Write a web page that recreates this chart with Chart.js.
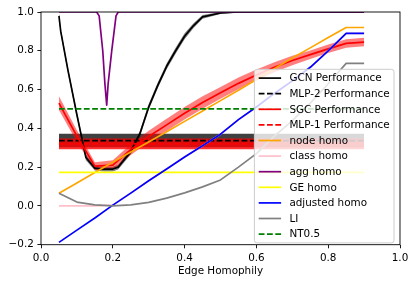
<!DOCTYPE html>
<html>
<head>
<meta charset="utf-8">
<script src="https://cdn.jsdelivr.net/npm/chart.js@4.4.0/dist/chart.umd.min.js"></script>
<style>
html,body{margin:0;padding:0;background:#ffffff;}
canvas{display:block;}
</style>
</head>
<body>
<canvas id="c" width="416" height="285"></canvas>
<script>
// ---------------- data ----------------
const edgeHomophily = [0.05,0.10,0.15,0.20,0.25,0.30,0.35,0.40,0.45,0.50,0.55,0.60,0.65,0.70,0.75,0.80,0.85,0.90];

const gcnX    = [0.05,0.055,0.075,0.10,0.125,0.15,0.175,0.20,0.215,0.25,0.275,0.30,0.325,0.35,0.375,0.40,0.425,0.45,0.50,0.55,0.60,0.65,0.70,0.75,0.80,0.85,0.90];
const gcnPerf = [0.98,0.90,0.70,0.47,0.25,0.195,0.19,0.19,0.20,0.28,0.37,0.51,0.62,0.72,0.80,0.875,0.93,0.975,0.995,1.0,1.0,1.0,1.0,1.0,1.0,1.0,1.0];
const gcnStd  = [0.015,0.015,0.015,0.015,0.015,0.012,0.012,0.012,0.012,0.015,0.015,0.015,0.015,0.015,0.015,0.015,0.012,0.01,0.005,0.003,0.003,0.003,0.003,0.003,0.003,0.003,0.003];

const mlp2Perf = [0.337,0.337,0.337,0.337,0.337,0.337,0.337,0.337,0.337,0.337,0.337,0.337,0.337,0.337,0.337,0.337,0.337,0.337];
const mlp2Std  = [0.035,0.035,0.035,0.035,0.035,0.035,0.035,0.035,0.035,0.035,0.035,0.035,0.035,0.035,0.035,0.035,0.035,0.035];

const sgcPerf = [0.53,0.36,0.205,0.21,0.29,0.358,0.418,0.478,0.533,0.583,0.632,0.675,0.715,0.75,0.78,0.81,0.838,0.845];
const sgcStd  = [0.035,0.03,0.02,0.025,0.028,0.03,0.032,0.032,0.032,0.03,0.03,0.028,0.026,0.024,0.022,0.022,0.022,0.022];

const mlp1Perf = [0.32,0.32,0.32,0.32,0.32,0.32,0.32,0.32,0.32,0.32,0.32,0.32,0.32,0.32,0.32,0.32,0.32,0.32];
const mlp1Std  = [0.028,0.028,0.028,0.028,0.028,0.028,0.028,0.028,0.028,0.028,0.028,0.028,0.028,0.028,0.028,0.028,0.028,0.028];

const nodeHomo     = [0.065,0.118,0.172,0.225,0.278,0.33,0.383,0.436,0.49,0.543,0.597,0.652,0.708,0.763,0.815,0.868,0.92,0.92];
const classHomo    = [0,0,0,0.004,0.066,0.13,0.19,0.252,0.31,0.37,0.445,0.51,0.58,0.645,0.715,0.80,0.89,0.89];
const aggX         = [0.05,0.155,0.162,0.172,0.178,0.183,0.187,0.197,0.209,0.215,0.90];
const aggHomo      = [1.0,1.0,0.98,0.80,0.63,0.52,0.63,0.80,0.98,1.0,1.0];
const geHomo       = [0.173,0.173,0.173,0.173,0.173,0.173,0.173,0.173,0.173,0.173,0.173,0.173,0.173,0.173,0.173,0.173,0.173,0.173];
const adjustedHomo = [-0.188,-0.125,-0.062,0.004,0.066,0.13,0.19,0.252,0.31,0.37,0.445,0.51,0.58,0.645,0.715,0.80,0.89,0.89];
const liValues     = [0.065,0.02,0.005,0.0,0.005,0.018,0.04,0.067,0.098,0.134,0.20,0.27,0.36,0.44,0.53,0.63,0.735,0.735];
const nt05         = [0.5,0.5,0.5,0.5,0.5,0.5,0.5,0.5,0.5,0.5,0.5,0.5,0.5,0.5,0.5,0.5,0.5,0.5];

const xTicks = [0.0,0.2,0.4,0.6,0.8,1.0];
const yTicks = [-0.2,0.0,0.2,0.4,0.6,0.8,1.0];

// ---------------- helpers ----------------
const pts = (xs, ys) => xs.map((x, i) => ({x: x, y: ys[i]}));
const shift = (ys, sd, s) => ys.map((v, i) => v + s * sd[i]);
const DASH = [5.8, 2.5];
const LW = 1.7;

function line(label, xs, ys, color, rank, dash) {
  return {label: label, data: pts(xs, ys), borderColor: color, backgroundColor: color,
    borderWidth: LW, borderDash: dash || [], pointRadius: 0, fill: false, tension: 0,
    borderJoinStyle: 'round', clip: 0, legendRank: rank};
}
function bandPair(xs, mean, sd, fillColor) {
  return [
    {label: '', data: pts(xs, shift(mean, sd, 1)), borderWidth: 0, borderColor: 'rgba(0,0,0,0)', pointRadius: 0, fill: false, clip: 0},
    {label: '', data: pts(xs, shift(mean, sd, -1)), borderWidth: 0, borderColor: 'rgba(0,0,0,0)', pointRadius: 0, fill: '-1', backgroundColor: fillColor, clip: 0}
  ];
}

// drawing order: first = bottom
const datasets = [].concat(
  bandPair(edgeHomophily, mlp2Perf, mlp2Std, 'rgba(0,0,0,0.75)'),
  bandPair(edgeHomophily, mlp1Perf, mlp1Std, 'rgba(255,0,0,0.8)'),
  bandPair(gcnX, gcnPerf, gcnStd, 'rgba(0,0,0,0.5)'),
  bandPair(edgeHomophily, sgcPerf, sgcStd, 'rgba(255,0,0,0.5)'),
  [
    line('GCN Performance', gcnX, gcnPerf, '#000000', 0),
    line('MLP-2 Performance', edgeHomophily, mlp2Perf, '#000000', 1, DASH),
    line('SGC Performance', edgeHomophily, sgcPerf, '#ff0000', 2),
    line('MLP-1 Performance', edgeHomophily, mlp1Perf, '#ff0000', 3, DASH),
    line('node homo', edgeHomophily, nodeHomo, '#ffa500', 4),
    line('class homo', edgeHomophily, classHomo, '#ffc0cb', 5),
    line('agg homo', aggX, aggHomo, '#800080', 6),
    line('GE homo', edgeHomophily, geHomo, '#ffff00', 7),
    line('adjusted homo', edgeHomophily, adjustedHomo, '#0000ff', 8),
    line('LI', edgeHomophily, liValues, '#808080', 9),
    line('NT0.5', edgeHomophily, nt05, '#008000', 10, DASH)
  ]
);
datasets.forEach((d, i) => { d.order = datasets.length - i; });

const FONT = '"DejaVu Sans", sans-serif';
const FS = 10.4;
const fmt = v => { if (Math.abs(v) < 1e-9) v = 0; const s = v.toFixed(1); return s.replace('-', '\u2212'); };

const framePlugin = {
  id: 'frame',
  afterDatasetsDraw(chart) {
    const a = chart.chartArea, ctx = chart.ctx;
    ctx.save();
    ctx.strokeStyle = '#000';
    ctx.lineWidth = 0.9;
    ctx.strokeRect(a.left, a.top, a.right - a.left, a.bottom - a.top);
    ctx.restore();
  }
};

const legendPlugin = {
  id: 'mplLegend',
  afterDraw(chart) {
    const ctx = chart.ctx, a = chart.chartArea;
    const items = chart.data.datasets.filter(d => d.legendRank !== undefined)
      .sort((p, q) => p.legendRank - q.legendRank);
    const rowH = 15.6, pad = 4.3, handleLen = 22.4, gap = 8.3, firstOff = 8.8;
    ctx.save();
    ctx.font = FS + 'px ' + FONT;
    const tw = Math.max.apply(null, items.map(d => ctx.measureText(d.label).width));
    const w = pad + handleLen + gap + tw + pad;
    const h = firstOff * 2 + rowH * (items.length - 1);
    const x0 = a.right - 6 - w;
    const y0 = a.bottom - 1.8 - h;
    ctx.beginPath();
    ctx.roundRect(x0, y0, w, h, 2.5);
    ctx.fillStyle = 'rgba(255,255,255,0.8)';
    ctx.fill();
    ctx.strokeStyle = '#cccccc';
    ctx.lineWidth = 1;
    ctx.stroke();
    items.forEach((d, i) => {
      const cy = y0 + firstOff + i * rowH;
      ctx.beginPath();
      ctx.setLineDash(d.borderDash || []);
      ctx.strokeStyle = d.borderColor;
      ctx.lineWidth = d.borderWidth;
      ctx.moveTo(x0 + pad, cy);
      ctx.lineTo(x0 + pad + handleLen, cy);
      ctx.stroke();
      ctx.setLineDash([]);
      ctx.fillStyle = '#000';
      ctx.textBaseline = 'middle';
      ctx.textAlign = 'left';
      ctx.fillText(d.label, x0 + pad + handleLen + gap, cy + 0.5);
    });
    ctx.restore();
  }
};

Chart.defaults.font.family = FONT;
Chart.defaults.font.size = FS;
Chart.defaults.color = '#000';

new Chart(document.getElementById('c'), {
  type: 'line',
  data: {datasets: datasets},
  options: {
    responsive: false,
    animation: false,
    devicePixelRatio: 1,
    events: [],
    layout: {padding: {left: 0, right: 16, top: 12, bottom: 0}},
    plugins: {legend: {display: false}, tooltip: {enabled: false}, title: {display: false}},
    scales: {
      x: {
        type: 'linear', min: 0, max: 1,
        afterBuildTicks: s => { s.ticks = xTicks.map(v => ({value: v})); },
        afterFit: s => { s.height = 40.3; },
        ticks: {callback: fmt, padding: 3.6, color: '#000', maxRotation: 0, autoSkip: false, font: {size: FS}},
        grid: {drawOnChartArea: false, drawTicks: true, tickLength: 3.6, tickColor: '#000', tickWidth: 0.9},
        border: {display: false},
        title: {display: true, text: 'Edge Homophily', color: '#000', font: {size: FS}, padding: {top: 0, bottom: 7.5}}
      },
      y: {
        type: 'linear', min: -0.2, max: 1.0,
        afterBuildTicks: s => { s.ticks = yTicks.map(v => ({value: v})); },
        afterFit: s => { s.width = 41; },
        ticks: {callback: fmt, padding: 3.6, color: '#000', font: {size: FS}},
        grid: {drawOnChartArea: false, drawTicks: true, tickLength: 3.6, tickColor: '#000', tickWidth: 0.9},
        border: {display: false}
      }
    }
  },
  plugins: [framePlugin, legendPlugin]
});
</script>
</body>
</html>
